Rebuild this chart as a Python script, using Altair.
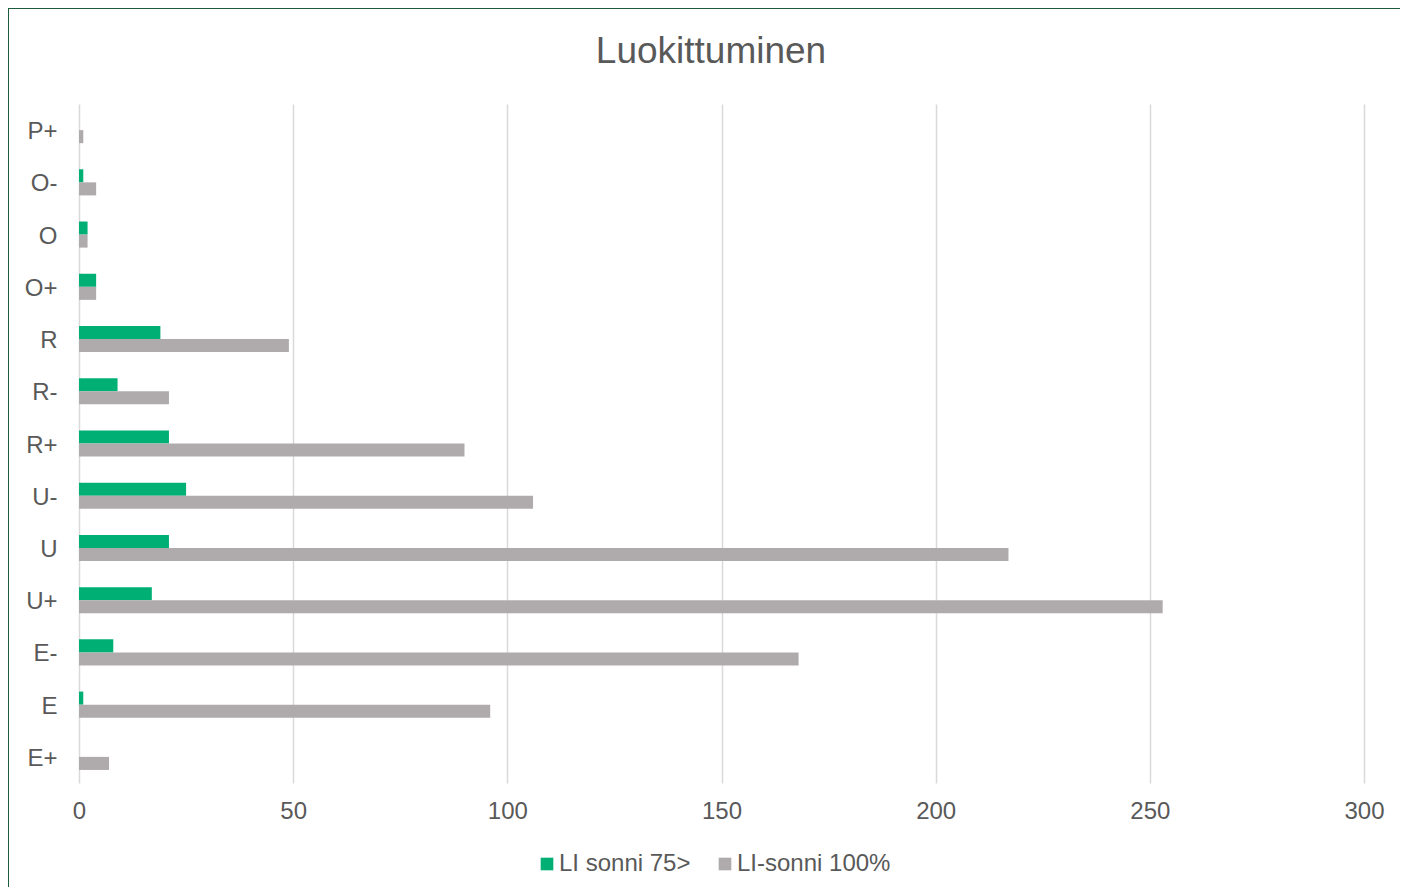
import altair as alt
import pandas as pd

categories = ["P+", "O-", "O", "O+", "R", "R-", "R+", "U-", "U", "U+", "E-", "E", "E+"]
series_names = ["LI sonni 75>", "LI-sonni 100%"]
green_values = [0, 1, 2, 4, 19, 9, 21, 25, 21, 17, 8, 1, 0]
grey_values = [1, 4, 2, 4, 49, 21, 90, 106, 217, 253, 168, 96, 7]
x_ticks = [0, 50, 100, 150, 200, 250, 300]
title_text = "Luokittuminen"

colors = ["#00AF74", "#AFABAD"]
FONT = "Liberation Sans"
TXT = "#595959"

rows = []
for c, g, r in zip(categories, green_values, grey_values):
    rows.append({"cat": c, "series": series_names[0], "value": g})
    rows.append({"cat": c, "series": series_names[1], "value": r})
df = pd.DataFrame(rows)

W, H = 1285, 679
PL, PT = 71, 96
TOTAL_W, TOTAL_H = 1392, 879

bars = alt.Chart(df).mark_bar().encode(
    y=alt.Y("cat:N", sort=categories, title=None,
            scale=alt.Scale(paddingInner=0.5, paddingOuter=0.25),
            axis=alt.Axis(labelFont=FONT, labelFontSize=24, labelColor=TXT,
                          labelPadding=22, labelOffset=2, ticks=False, domain=False, grid=False)),
    yOffset=alt.YOffset("series:N", sort=series_names, scale=alt.Scale(paddingInner=0, paddingOuter=0)),
    x=alt.X("value:Q", title=None,
            scale=alt.Scale(domain=[0, 300], nice=False),
            axis=alt.Axis(values=x_ticks, labelFont=FONT, labelFontSize=24, labelColor=TXT,
                          labelPadding=16, labelFlush=False, ticks=False, domain=False, grid=True,
                          gridColor="#D9D9D9", gridWidth=1.5)),
    color=alt.Color("series:N", sort=series_names,
                    scale=alt.Scale(domain=series_names, range=colors),
                    legend=alt.Legend(title=None, orient="none", direction="horizontal",
                                      legendX=456, legendY=748, symbolType="square",
                                      symbolSize=160, symbolStrokeWidth=0, labelOffset=0,
                                      columnPadding=22, padding=0,
                                      labelFont=FONT, labelFontSize=24, labelColor=TXT)),
)

one = pd.DataFrame({"t": [title_text]})
title = alt.Chart(one).mark_text(font=FONT, fontSize=37, color=TXT, align="center",
                                 baseline="alphabetic").encode(
    text="t:N", x=alt.value(632), y=alt.value(-41))

border = alt.Chart(one).mark_rect(fill=None, stroke="#1E5B3E", strokeWidth=2).encode(
    x=alt.value(-PL), x2=alt.value(TOTAL_W - PL + 30),
    y=alt.value(-PT), y2=alt.value(TOTAL_H - PT + 30))

chart = alt.layer(border, bars, title).properties(
    width=W, height=H,
    background="white",
    autosize=alt.AutoSizeParams(type="none"),
    padding={"left": PL, "top": PT, "right": TOTAL_W - PL - W, "bottom": TOTAL_H - PT - H},
).configure_view(stroke=None)

chart.save("out.html", embed_options={"renderer": "svg", "actions": False})
